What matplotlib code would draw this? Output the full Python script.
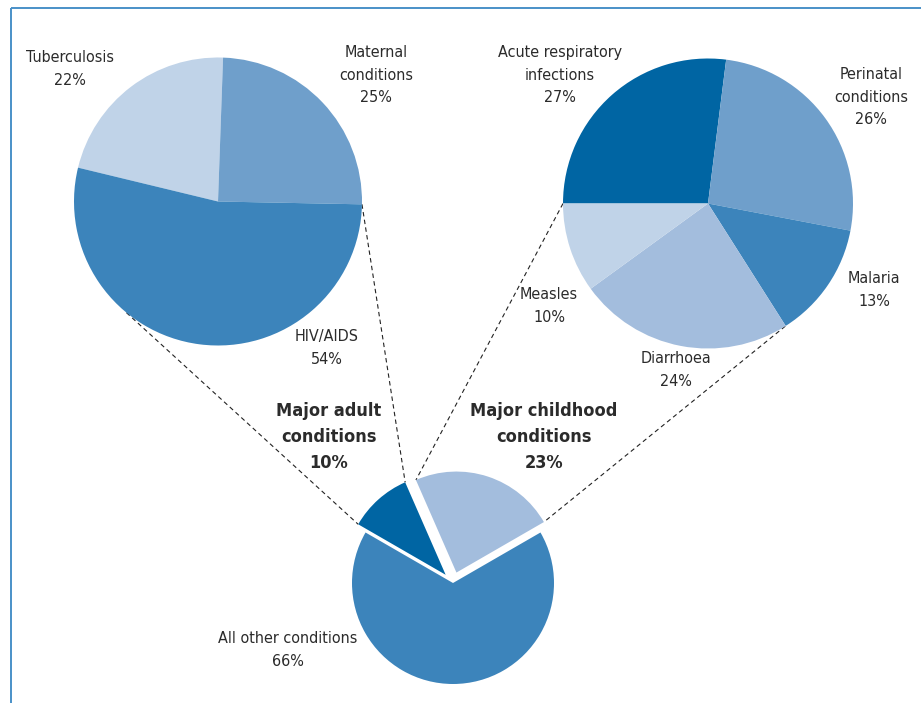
import numpy as np
import matplotlib
matplotlib.use('Agg')
import matplotlib.pyplot as plt

plt.rcParams['font.family'] = ['DejaVu Sans']
plt.rcParams['font.stretch'] = 'condensed'

# Share of deaths, bottom pie
main_labels = ['Major childhood\nconditions', 'Major adult\nconditions', 'All other conditions']
main_values = [23, 10, 66]

# Breakdown of major adult conditions
adult_labels = ['Tuberculosis', 'Maternal\nconditions', 'HIV/AIDS']
adult_values = [22, 25, 54]

# Breakdown of major childhood conditions
child_labels = ['Acute respiratory\ninfections', 'Perinatal\nconditions', 'Malaria',
                'Diarrhoea', 'Measles']
child_values = [27, 26, 13, 24, 10]

DARK = '#0065a3'
MID = '#3c84bb'
SOFT = '#6f9fcb'
LIGHT = '#a3bddd'
PALE = '#c0d3e8'
TEXT = '#2b2b2b'

W, H = 921, 703
fig = plt.figure(figsize=(W / 100, H / 100), dpi=100)
ax = fig.add_axes([0, 0, 1, 1])


def py(y):
    # pixel row (from top) -> data y
    return H - y


main_c, main_r, main_start = (453, py(583)), 101, 30
adult_c, adult_r, adult_start = (218, py(201.5)), 144, 166.4
child_c, child_r, child_start = (708, py(203.5)), 145, 180
explode_d = 11

ax.pie(main_values, colors=[LIGHT, DARK, MID], center=main_c, radius=main_r,
       startangle=main_start, explode=[explode_d, explode_d, 0],
       wedgeprops=dict(linewidth=0))
ax.pie(adult_values, colors=[PALE, SOFT, MID], center=adult_c, radius=adult_r,
       startangle=adult_start, counterclock=False, wedgeprops=dict(linewidth=0))
ax.pie(child_values, colors=[DARK, SOFT, MID, LIGHT, PALE], center=child_c,
       radius=child_r, startangle=child_start, counterclock=False,
       wedgeprops=dict(linewidth=0))


def point(c, r, ang):
    a = np.deg2rad(ang)
    return c[0] + r * np.cos(a), c[1] + r * np.sin(a)


# wedge angles of the exploded slices in the bottom pie
tot = sum(main_values)
child_a1 = main_start
child_a2 = child_a1 + 360 * main_values[0] / tot
adult_a1 = child_a2
adult_a2 = adult_a1 + 360 * main_values[1] / tot


def shifted(a1, a2):
    mid = (a1 + a2) / 2
    return point(main_c, explode_d, mid)


adult_wc = shifted(adult_a1, adult_a2)
child_wc = shifted(child_a1, child_a2)

adult_end = adult_start - 360 * (adult_values[0] + adult_values[1]) / sum(adult_values)
connectors = [
    (point(adult_c, adult_r, adult_end), point(adult_wc, main_r, adult_a1)),
    (point(adult_c, adult_r, 230.5), point(adult_wc, main_r, adult_a2)),
    (point(child_c, child_r, 180), point(child_wc, main_r, child_a2)),
    (point(child_c, child_r, -57.8), point(child_wc, main_r, child_a1)),
]
for p, q in connectors:
    ax.plot([p[0], q[0]], [p[1], q[1]], color='#222222', lw=0.8,
            dashes=(4, 3), zorder=0)

fs = 11.5
ls = 1.65
labels = [
    ('Tuberculosis\n22%', 70, 69),
    ('Maternal\nconditions\n25%', 376, 75),
    ('HIV/AIDS\n54%', 327, 348),
    ('Acute respiratory\ninfections\n27%', 560, 75),
    ('Perinatal\nconditions\n26%', 871, 97),
    ('Malaria\n13%', 874, 290),
    ('Measles\n10%', 549, 306),
    ('Diarrhoea\n24%', 676, 370),
    ('All other conditions\n66%', 288, 650),
]
for txt, x, y in labels:
    ax.text(x, py(y), txt, ha='center', va='center', fontsize=fs,
            color=TEXT, linespacing=ls)

ax.text(329, py(437), 'Major adult\nconditions\n10%', ha='center', va='center',
        fontsize=13, fontweight='bold', color=TEXT, linespacing=1.6)
ax.text(544, py(437), 'Major childhood\nconditions\n23%', ha='center', va='center',
        fontsize=13, fontweight='bold', color=TEXT, linespacing=1.6)

# frame: top and left rules only
ax.plot([10.5, W], [py(8), py(8)], color='#4a90c8', lw=1.4, solid_capstyle='butt')
ax.plot([10.5, 10.5], [py(8), 0], color='#4a90c8', lw=1.4, solid_capstyle='butt')

ax.set_xlim(0, W)
ax.set_ylim(0, H)
ax.set_aspect('equal')
ax.axis('off')

fig.savefig('out.png', dpi=100)
